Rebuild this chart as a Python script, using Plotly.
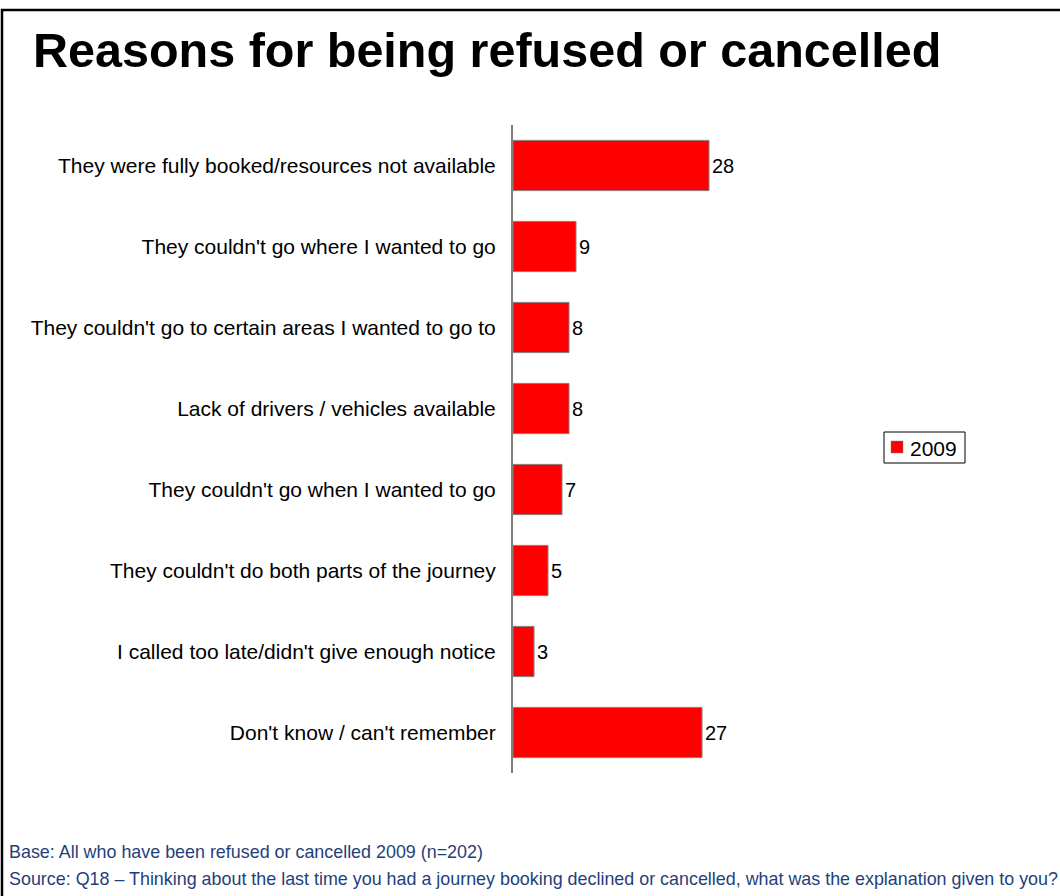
import plotly.graph_objects as go

# Data
reasons = [
    "They were fully booked/resources not available",
    "They couldn't go where I wanted to go",
    "They couldn't go to certain areas I wanted to go to",
    "Lack of drivers / vehicles available",
    "They couldn't go when I wanted to go",
    "They couldn't do both parts of the journey",
    "I called too late/didn't give enough notice",
    "Don't know / can't remember",
]
values_2009 = [28, 9, 8, 8, 7, 5, 3, 27]
series_name = "2009"

W, H = 1060, 896
L, R, T, B = 513, 863, 125, 773  # plot area in pixels


def px(x):
    return (x - L) / (R - L)


def py(y):
    return (B - y) / (B - T)


FONT = "Arial, Liberation Sans, sans-serif"
RED = "#FF0000"

fig = go.Figure()
fig.add_trace(go.Bar(
    x=values_2009, y=reasons, orientation="h",
    name=series_name,
    marker=dict(color=RED, line=dict(color="#808080", width=1)),
    width=0.62,
    text=values_2009, textposition="outside",
    textfont=dict(size=20, color="black", family=FONT),
    cliponaxis=False,
    showlegend=False,
))

fig.update_layout(
    width=W, height=H,
    margin=dict(l=L, r=W - R, t=T, b=H - B, autoexpand=False),
    paper_bgcolor="white", plot_bgcolor="white",
    font=dict(family=FONT, color="black"),
    xaxis=dict(range=[0, 50], visible=False, fixedrange=True),
    yaxis=dict(
        autorange="reversed", showline=True, linecolor="#808080", linewidth=2,
        showgrid=False, ticks="", ticklabelstandoff=11,
        tickfont=dict(size=21, color="black"),
    ),
)

# Slide frame
fig.add_shape(type="rect", xref="paper", yref="paper",
              x0=px(2), x1=px(1064), y0=py(10), y1=py(900),
              line=dict(color="black", width=2.5), layer="below")

# Legend box (series key)
fig.add_shape(type="rect", xref="paper", yref="paper",
              x0=px(884), x1=px(965), y0=py(432), y1=py(463),
              line=dict(color="black", width=1), fillcolor="white")
fig.add_shape(type="rect", xref="paper", yref="paper",
              x0=px(891), x1=px(903), y0=py(441), y1=py(453),
              line=dict(color="#808080", width=0.5), fillcolor=RED)
fig.add_annotation(
    text=series_name, xref="paper", yref="paper", x=px(908), y=py(448),
    xanchor="left", yanchor="middle", showarrow=False,
    font=dict(size=21, color="black", family=FONT),
)

fig.add_annotation(
    text="<b>Reasons for being refused or cancelled</b>",
    xref="paper", yref="paper", x=px(31), y=py(50),
    xanchor="left", yanchor="middle", showarrow=False,
    font=dict(size=48.5, color="black", family=FONT),
)
fig.add_annotation(
    text="Base: All who have been refused or cancelled 2009 (n=202)",
    xref="paper", yref="paper", x=px(7), y=py(852),
    xanchor="left", yanchor="middle", showarrow=False,
    font=dict(size=17.9, color="#1F3F7A", family=FONT),
)
fig.add_annotation(
    text="Source: Q18 \u2013 Thinking about the last time you had a journey booking declined or cancelled, what was the explanation given to you?",
    xref="paper", yref="paper", x=px(7), y=py(879),
    xanchor="left", yanchor="middle", showarrow=False,
    font=dict(size=17.9, color="#1F3F7A", family=FONT),
)

fig.write_html(
    "out.html",
    config={"displayModeBar": False},
    post_script="document.body.style.margin='0';document.body.style.overflow='hidden';",
)
